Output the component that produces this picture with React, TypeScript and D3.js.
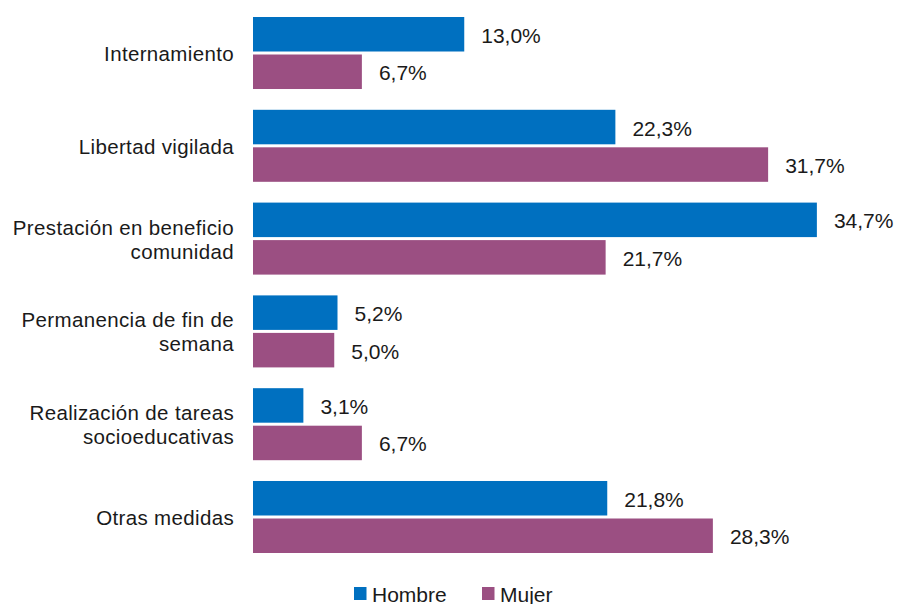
import React, { useEffect } from 'react';
import * as d3 from 'd3';

const categories = [
  'Internamiento',
  'Libertad vigilada',
  'Prestación en beneficio comunidad',
  'Permanencia de fin de semana',
  'Realización de tareas socioeducativas',
  'Otras medidas',
];

// label lines as they wrap in the original
const categoryLines = [
  ['Internamiento'],
  ['Libertad vigilada'],
  ['Prestación en beneficio', 'comunidad'],
  ['Permanencia de fin de', 'semana'],
  ['Realización de tareas', 'socioeducativas'],
  ['Otras medidas'],
];

const series = ['Hombre', 'Mujer'];
const hombre = [13.0, 22.3, 34.7, 5.2, 3.1, 21.8];
const mujer = [6.7, 31.7, 21.7, 5.0, 6.7, 28.3];
const colors = ['#0070C0', '#9B4F82'];

const width = 898;
const height = 604;
const font = '"Liberation Sans", Arial, Helvetica, sans-serif';

const fmt = (v: number) => v.toFixed(1).replace('.', ',') + '%';

const App: React.FC = () => {
  useEffect(() => {
    document.body.style.margin = '0';
  }, []);

  const x = d3.scaleLinear().domain([0, 35]).range([253, 253 + 35 * 16.25]);
  const y = d3.scaleBand<string>().domain(categories).range([17, 553]).paddingInner(0.224).paddingOuter(0);
  const ySub = d3.scaleBand<string>().domain(series).range([0, y.bandwidth()]).paddingInner(0.08);

  const values = [hombre, mujer];

  return (
    <svg width={width} height={height} style={{ display: 'block', background: '#fff' }}>
      {categories.map((cat, i) => {
        const y0 = y(cat)!;
        const cy = y0 + y.bandwidth() / 2;
        const lines = categoryLines[i];
        const lh = 24;
        return (
          <g key={cat}>
            <text
              x={234}
              y={cy - ((lines.length - 1) * lh) / 2}
              textAnchor="end"
              dominantBaseline="central"
              fontFamily={font}
              fontSize={20.5}
              letterSpacing={0.35}
              fill="#1a1a1a"
            >
              {lines.map((ln, j) => (
                <tspan key={j} x={234} dy={j === 0 ? 0 : lh}>
                  {ln}
                </tspan>
              ))}
            </text>
            {series.map((s, k) => {
              const v = values[k][i];
              const by = y0 + ySub(s)!;
              return (
                <g key={s}>
                  <rect
                    x={x(0)}
                    y={by}
                    width={x(v) - x(0)}
                    height={ySub.bandwidth()}
                    fill={colors[k]}
                  />
                  <text
                    x={x(v) + 17}
                    y={by + ySub.bandwidth() / 2 + 1}
                    dominantBaseline="central"
                    fontFamily={font}
                    fontSize={21}
                    fill="#1a1a1a"
                  >
                    {fmt(v)}
                  </text>
                </g>
              );
            })}
          </g>
        );
      })}
      {/* legend */}
      {series.map((s, k) => {
        const lx = [354, 482][k];
        return (
          <g key={s} transform={`translate(${lx},587)`}>
            <rect x={0} y={0} width={12.5} height={13} fill={colors[k]} />
            <text x={18} y={7} dominantBaseline="central" fontFamily={font} fontSize={21} fill="#1a1a1a">
              {s}
            </text>
          </g>
        );
      })}
    </svg>
  );
};

export default App;
